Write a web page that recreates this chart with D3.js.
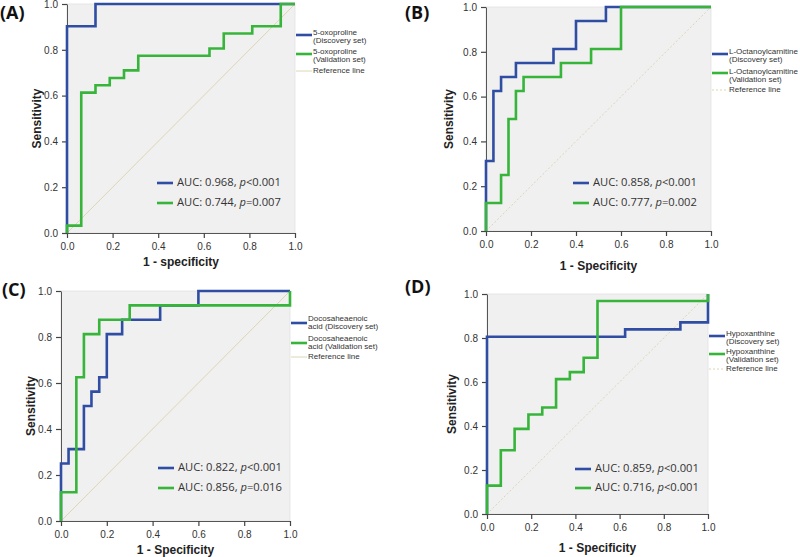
<!DOCTYPE html>
<html><head><meta charset="utf-8">
<script src="https://cdn.jsdelivr.net/npm/d3@7"></script>
<style>body{margin:0;background:#fff}svg{display:block}</style>
</head><body>
<svg id="c" width="800" height="557"></svg>
<script>
// ---------- data ----------
const tickValues = [0, 0.2, 0.4, 0.6, 0.8, 1.0];
const tickLabels = ["0.0", "0.2", "0.4", "0.6", "0.8", "1.0"];
const panelLabels = ["(A)", "(B)", "(C)", "(D)"];
const xTitles = ["1 - specificity", "1 - Specificity", "1 - Specificity", "1 - Specificity"];
const yTitle = "Sensitivity";
const compoundNames = [["5-oxoproline"], ["L-Octanoylcarnitine"], ["Docosaheaenoic", "acid"], ["Hypoxanthine"]];
const setNames = ["Discovery set", "Validation set"];
const refLabel = "Reference line";
const aucDiscovery = ["0.968", "0.858", "0.822", "0.859"];
const pDiscovery = ["<0.001", "<0.001", "<0.001", "<0.001"];
const aucValidation = ["0.744", "0.777", "0.856", "0.716"];
const pValidation = ["=0.007", "=0.002", "=0.016", "<0.001"];

// ROC points (1-specificity, sensitivity)
const aDiscFpr = [0, 0, 0.125, 1];
const aDiscTpr = [0, 0.903, 1, 1];
const aValFpr = [0, 0, 0.0625, 0.125, 0.1875, 0.25, 0.3125, 0.625, 0.6875, 0.8125, 0.9375, 1];
const aValTpr = [0, 0.032, 0.613, 0.645, 0.677, 0.710, 0.774, 0.806, 0.871, 0.903, 1, 1];
const bDiscFpr = [0, 0, 0.033, 0.067, 0.133, 0.3, 0.4, 0.533, 1];
const bDiscTpr = [0, 0.3125, 0.625, 0.6875, 0.75, 0.8125, 0.9375, 1, 1];
const bValFpr = [0, 0, 0.067, 0.1, 0.133, 0.167, 0.333, 0.467, 0.6, 1];
const bValTpr = [0, 0.125, 0.25, 0.5, 0.625, 0.6875, 0.75, 0.8125, 1, 1];
const cDiscFpr = [0, 0, 0.033, 0.1, 0.133, 0.167, 0.2, 0.267, 0.433, 0.6, 1];
const cDiscTpr = [0, 0.25, 0.3125, 0.5, 0.5625, 0.625, 0.8125, 0.875, 0.9375, 1, 1];
const cValFpr = [0, 0, 0.067, 0.1, 0.167, 0.3, 1, 1];
const cValTpr = [0, 0.125, 0.625, 0.8125, 0.875, 0.9375, 0.9375, 1];
const dDiscFpr = [0, 0, 0.625, 0.875, 1, 1];
const dDiscTpr = [0, 0.806, 0.839, 0.871, 0.871, 1];
const dValFpr = [0, 0, 0.0625, 0.125, 0.1875, 0.25, 0.3125, 0.375, 0.4375, 0.5, 1, 1];
const dValTpr = [0, 0.129, 0.29, 0.387, 0.452, 0.484, 0.613, 0.645, 0.71, 0.968, 0.968, 1];

const discSeries = [[aDiscFpr, aDiscTpr], [bDiscFpr, bDiscTpr], [cDiscFpr, cDiscTpr], [dDiscFpr, dDiscTpr]];
const valSeries = [[aValFpr, aValTpr], [bValFpr, bValTpr], [cValFpr, cValTpr], [dValFpr, dValTpr]];

// ---------- layout ----------
const BLUE = "#2f4da3", GREEN = "#36b53a", REF = "#dcd6b4";
const layout = [
  {x0: 67, x1: 295, y0: 4, y1: 233, lx: 0, ly: 19, yt: 38, xt: 263, leg: [183, 203], legX: 157,
   rl: {sw: [35, 54, 71], lines: [[33, 41], [52, 60], [71]], dash: null}},
  {x0: 486, x1: 711, y0: 7, y1: 231, lx: 405, ly: 19, yt: 450, xt: 267, leg: [183, 203], legX: 573,
   rl: {sw: [54, 73, 90], lines: [[52, 60], [72, 80], [90]], dash: "2,2"}},
  {x0: 61, x1: 290, y0: 291, y1: 521, lx: 2, ly: 296, yt: 32, xt: 551, leg: [468, 488], legX: 158,
   rl: {sw: [323, 343, 357], lines: [[319, 327], [339, 347], [357]], dash: null}},
  {x0: 487, x1: 708, y0: 294, y1: 514, lx: 405, ly: 293, yt: 453, xt: 549, leg: [469, 488], legX: 575,
   rl: {sw: [336, 354, 369], lines: [[334, 342], [352, 360], [369]], dash: "2,2"}}
];

const svg = d3.select("#c");
const FONT = "'Liberation Sans', Arial, sans-serif";

layout.forEach((L, i) => {
  const g = svg.append("g");
  const x = d3.scaleLinear().domain([0, 1]).range([L.x0, L.x1]);
  const y = d3.scaleLinear().domain([0, 1]).range([L.y1, L.y0]);

  g.append("rect").attr("x", L.x0).attr("y", L.y0).attr("width", L.x1 - L.x0).attr("height", L.y1 - L.y0)
    .attr("fill", "#f0f0f0").attr("stroke", "#e2e2e2").attr("stroke-width", 0.8);

  // reference line
  g.append("line").attr("x1", x(0)).attr("y1", y(0)).attr("x2", x(1)).attr("y2", y(1))
    .attr("stroke", REF).attr("stroke-width", 1).attr("stroke-dasharray", L.rl.dash);

  // axes
  const xa = d3.axisBottom(x).tickValues(tickValues).tickFormat((d, k) => tickLabels[k]).tickSize(5).tickSizeOuter(0);
  const ya = d3.axisLeft(y).tickValues(tickValues).tickFormat((d, k) => tickLabels[k]).tickSize(5).tickSizeOuter(0);
  const gx = g.append("g").attr("transform", `translate(0,${L.y1})`).call(xa);
  const gy = g.append("g").attr("transform", `translate(${L.x0},0)`).call(ya);
  [gx, gy].forEach(a => {
    a.selectAll("path").attr("stroke", "#555").attr("stroke-width", 1);
    a.selectAll("line").attr("stroke", "#444").attr("stroke-width", 1.2);
    a.selectAll("text").attr("fill", "#333").attr("font-family", FONT).attr("font-size", 10);
  });
  gx.selectAll("text").attr("dy", "0.9em");
  gy.selectAll("text").attr("dx", "-1");

  // curves
  const line = d3.line().x(d => x(d[0])).y(d => y(d[1])).curve(d3.curveStepAfter);
  const toPts = s => s[0].map((v, k) => [v, s[1][k]]);
  g.append("path").attr("d", line(toPts(discSeries[i]))).attr("fill", "none")
    .attr("stroke", BLUE).attr("stroke-width", 2.6);
  g.append("path").attr("d", line(toPts(valSeries[i]))).attr("fill", "none")
    .attr("stroke", GREEN).attr("stroke-width", 2.6);

  // panel label
  g.append("text").attr("x", L.lx).attr("y", L.ly).text(panelLabels[i])
    .attr("font-family", "'Open Sans', 'Noto Sans', sans-serif").attr("font-weight", "bold")
    .attr("font-size", 18).attr("fill", "#111");

  // axis titles
  g.append("text").attr("x", (L.x0 + L.x1) / 2).attr("y", L.xt).attr("text-anchor", "middle")
    .attr("dominant-baseline", "middle").text(xTitles[i])
    .attr("font-family", FONT).attr("font-weight", "bold").attr("font-size", 12).attr("fill", "#222");
  g.append("text").attr("transform", `translate(${L.yt},${(L.y0 + L.y1) / 2}) rotate(-90)`)
    .attr("text-anchor", "middle").attr("dominant-baseline", "middle").text(yTitle)
    .attr("font-family", FONT).attr("font-weight", "bold").attr("font-size", 12).attr("fill", "#222");

  // inner AUC legend
  const aucRows = [[BLUE, aucDiscovery[i], pDiscovery[i]], [GREEN, aucValidation[i], pValidation[i]]];
  aucRows.forEach((r, k) => {
    const yy = L.leg[k];
    g.append("line").attr("x1", L.legX).attr("x2", L.legX + 16).attr("y1", yy).attr("y2", yy)
      .attr("stroke", r[0]).attr("stroke-width", 2.6);
    const t = g.append("text").attr("x", L.legX + 20).attr("y", yy).attr("dominant-baseline", "middle")
      .attr("font-family", "'Open Sans', 'Noto Sans', sans-serif").attr("font-size", 11.2).attr("fill", "#333");
    t.append("tspan").text(`AUC: ${r[1]}, `);
    t.append("tspan").attr("font-style", "italic").text("p");
    t.append("tspan").text(r[2]);
  });

  // right legend
  const names = compoundNames[i];
  const entries = [
    {c: BLUE, w: 2.6, dash: null, lines: names.length === 2 ? [names[0], `${names[1]} (${setNames[0]})`] : [names[0], `(${setNames[0]})`]},
    {c: GREEN, w: 2.6, dash: null, lines: names.length === 2 ? [names[0], `${names[1]} (${setNames[1]})`] : [names[0], `(${setNames[1]})`]},
    {c: REF, w: 1, dash: L.rl.dash, lines: [refLabel]}
  ];
  entries.forEach((e, k) => {
    const sy = L.rl.sw[k];
    g.append("line").attr("x1", L.x1 + 1).attr("x2", L.x1 + 17).attr("y1", sy).attr("y2", sy)
      .attr("stroke", e.c).attr("stroke-width", e.w).attr("stroke-dasharray", e.dash);
    e.lines.forEach((s, j) => {
      g.append("text").attr("x", L.x1 + 18).attr("y", L.rl.lines[k][j]).attr("dominant-baseline", "middle")
        .text(s).attr("font-family", FONT).attr("font-size", 8).attr("fill", "#333");
    });
  });
});
</script>
</body></html>
